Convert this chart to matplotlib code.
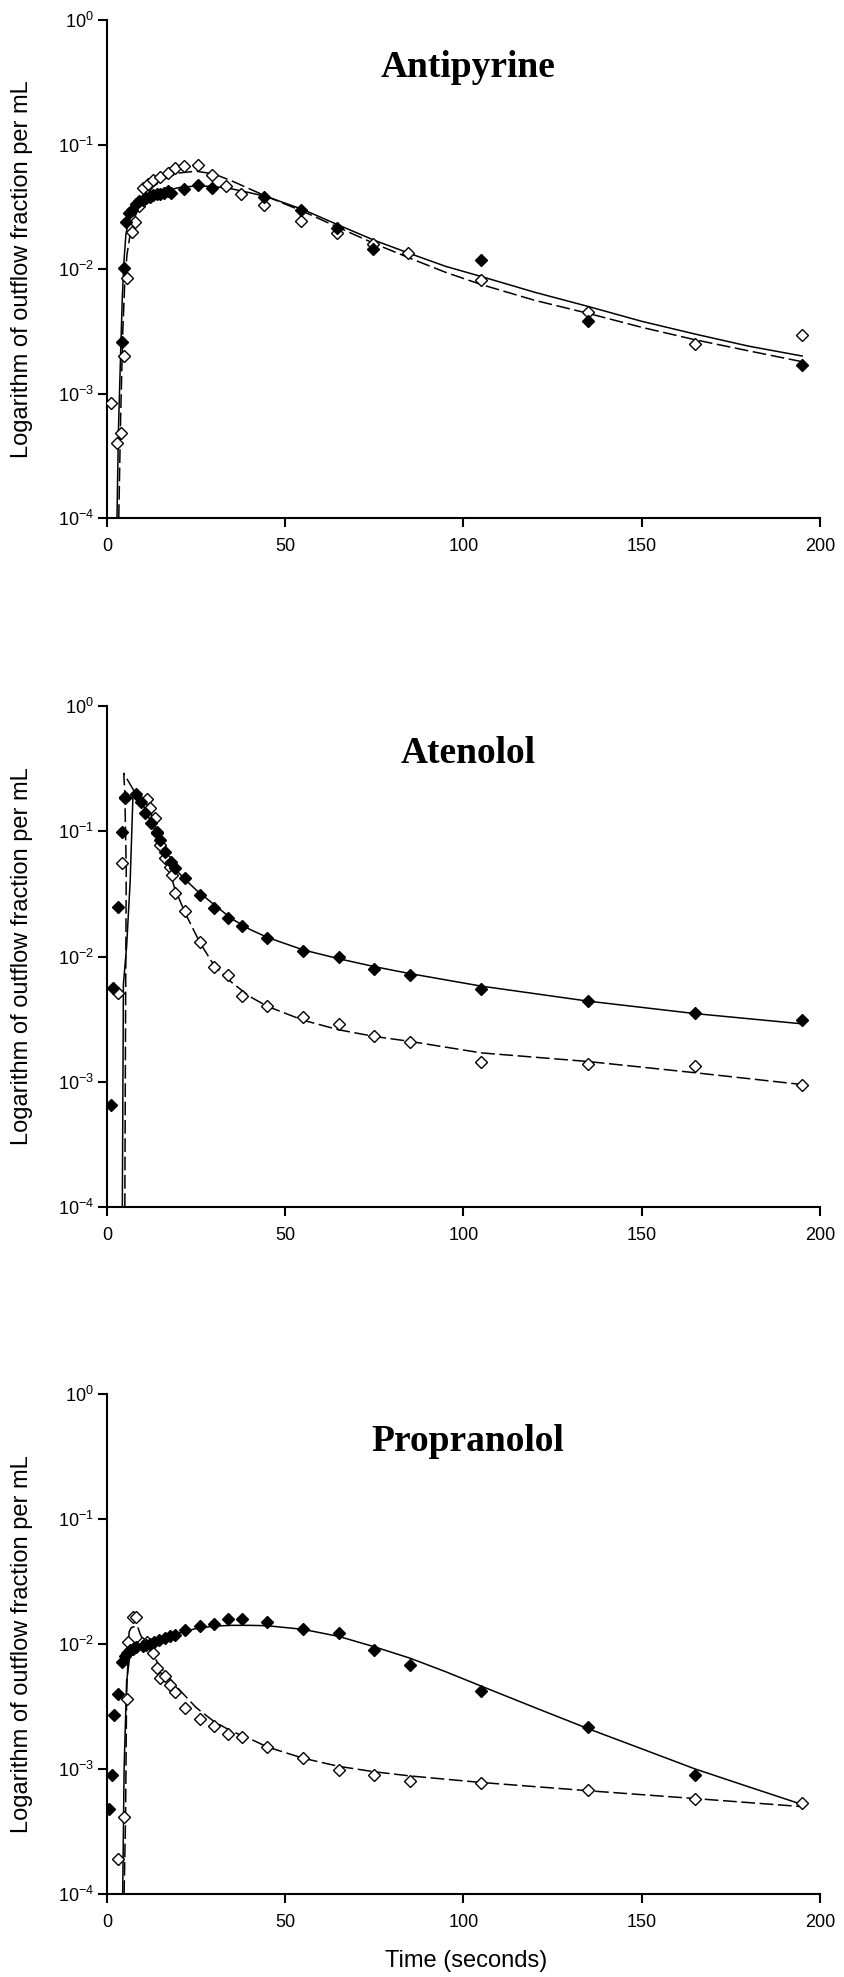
import matplotlib
matplotlib.use("Agg")
import matplotlib.pyplot as plt
from matplotlib.ticker import NullLocator

plt.rcParams["font.family"] = ["Liberation Sans", "DejaVu Sans"]
plt.rcParams["mathtext.fontset"] = "custom"
plt.rcParams["mathtext.rm"] = "Liberation Sans"
plt.rcParams["mathtext.it"] = "Liberation Sans:italic"
plt.rcParams["mathtext.bf"] = "Liberation Sans:bold"

# ---- Antipyrine ----
anti_filled_t = [4.1, 4.8, 5.3, 6.3, 7.0, 8.0, 9.0, 10.0, 11.0, 12.0, 13.0, 14.0, 15.0, 16.0,
                 17.0, 18.0, 21.5, 25.5, 29.5, 44.0, 54.5, 64.5, 74.5, 105, 135, 195]
anti_filled_y = [0.0026, 0.0101, 0.024, 0.028, 0.030, 0.033, 0.035, 0.036, 0.037, 0.038, 0.039,
                 0.040, 0.040, 0.041, 0.042, 0.041, 0.044, 0.047, 0.045, 0.038, 0.0298, 0.0215,
                 0.0145, 0.0119, 0.0038, 0.00168]
anti_open_t = [1.0, 2.9, 4.0, 4.8, 5.6, 7.0, 7.8, 9.0, 10.0, 11.5, 13.0, 15.0, 17.0, 19.0, 21.5,
               25.5, 29.5, 33.5, 37.5, 44.0, 54.5, 64.5, 74.5, 84.5, 105, 135, 165, 195]
anti_open_y = [0.00084, 0.00040, 0.00048, 0.0020, 0.0085, 0.020, 0.024, 0.032, 0.045, 0.048,
               0.052, 0.055, 0.059, 0.065, 0.067, 0.068, 0.057, 0.046, 0.040, 0.0325, 0.0245,
               0.0195, 0.0159, 0.0134, 0.0081, 0.0045, 0.0025, 0.00295]
anti_solid_t = [2.8, 3.2, 3.8, 4.3, 4.8, 5.3, 6, 7, 8, 10, 13, 16, 20, 25, 30, 35, 40, 45, 55,
                65, 75, 85, 95, 105, 120, 135, 150, 165, 180, 195]
anti_solid_y = [1e-4, 5e-4, 0.002, 0.006, 0.012, 0.019, 0.024, 0.028, 0.031, 0.035, 0.039,
                0.042, 0.045, 0.0465, 0.046, 0.044, 0.041, 0.038, 0.030, 0.0225, 0.017, 0.0133,
                0.0105, 0.0087, 0.0065, 0.0050, 0.0038, 0.0030, 0.0024, 0.0020]
anti_dash_t = [3.3, 3.8, 4.4, 5, 5.6, 6.5, 8, 10, 13, 16, 20, 25, 30, 35, 40, 45, 55, 65, 75,
               85, 95, 105, 120, 135, 150, 165, 180, 195]
anti_dash_y = [1e-4, 6e-4, 0.003, 0.008, 0.013, 0.019, 0.027, 0.036, 0.046, 0.053, 0.059,
               0.061, 0.058, 0.051, 0.044, 0.038, 0.029, 0.0215, 0.016, 0.0122, 0.0094, 0.0075,
               0.0056, 0.0044, 0.0034, 0.0027, 0.0022, 0.0018]

# ---- Atenolol ----
aten_filled_t = [1.0, 1.7, 3.1, 4.2, 5.0, 8.0, 9.5, 10.7, 12.3, 14.0, 15.0, 16.3, 18.0, 19.0,
                 22, 26, 30, 34, 38, 45, 55, 65, 75, 85, 105, 135, 165, 195]
aten_filled_y = [0.00065, 0.0056, 0.025, 0.098, 0.185, 0.20, 0.17, 0.14, 0.117, 0.099, 0.085,
                 0.068, 0.057, 0.051, 0.042, 0.031, 0.0244, 0.0203, 0.0174, 0.0140, 0.0111,
                 0.0100, 0.0079, 0.0071, 0.0055, 0.0044, 0.00355, 0.00313]
aten_open_t = [3.1, 4.2, 5.0, 11.2, 12.0, 13.5, 14.0, 15.0, 16.3, 17.7, 18.2, 19.0, 22, 26, 30,
               34, 38, 45, 55, 65, 75, 85, 105, 135, 165, 195]
aten_open_y = [0.0051, 0.056, 0.187, 0.18, 0.153, 0.128, 0.097, 0.078, 0.061, 0.052, 0.045,
               0.032, 0.023, 0.013, 0.0083, 0.0071, 0.0048, 0.0040, 0.0033, 0.0029, 0.00234,
               0.00207, 0.00143, 0.00139, 0.00134, 0.00095]
aten_solid_t = [4.3, 4.6, 5.5, 6.5, 7.3, 8.0, 9, 10, 12, 14, 16, 18, 20, 22, 25, 30, 35, 40, 45,
                55, 65, 75, 85, 105, 135, 165, 195]
aten_solid_y = [1e-4, 0.006, 0.012, 0.04, 0.2, 0.205, 0.19, 0.165, 0.123, 0.094, 0.073, 0.058,
                0.047, 0.041, 0.034, 0.026, 0.020, 0.0165, 0.0142, 0.0113, 0.0096, 0.0083,
                0.0073, 0.0058, 0.0044, 0.0035, 0.0029]
aten_dash_t = [5.0, 5.2, 5.4, 5.0, 4.7, 8, 12, 14, 16.5, 19, 22, 26, 30, 35, 40, 45, 55, 65, 75,
               85, 105, 135, 165, 195]
aten_dash_y = [1e-4, 0.003, 0.05, 0.2, 0.29, 0.2, 0.15, 0.10, 0.06, 0.035, 0.022, 0.013, 0.0085,
               0.0062, 0.0048, 0.0040, 0.0031, 0.0026, 0.0023, 0.0021, 0.0017, 0.00145,
               0.00118, 0.00095]

# ---- Propranolol ----
prop_filled_t = [0.5, 1.5, 2.0, 3.2, 4.2, 5.0, 5.7, 6.5, 7.2, 8.0, 10, 11, 12, 13.2, 14.7, 16.2,
                 17.7, 19.2, 22, 26, 30, 34, 38, 45, 55, 65, 75, 85, 105, 135, 165]
prop_filled_y = [0.00048, 0.00089, 0.0027, 0.0040, 0.0072, 0.0080, 0.0085, 0.0090, 0.0092,
                 0.0094, 0.0097, 0.0099, 0.0100, 0.0104, 0.0108, 0.0111, 0.0115, 0.0117, 0.0130,
                 0.0140, 0.0145, 0.0158, 0.0158, 0.0150, 0.0133, 0.0122, 0.0089, 0.0068, 0.0042,
                 0.00216, 0.00089]
prop_open_t = [3.2, 4.7, 5.6, 5.9, 7.3, 8.2, 9.8, 11.2, 13, 14, 15, 16.3, 17.7, 19, 22, 26, 30,
               34, 38, 45, 55, 65, 75, 85, 105, 135, 165, 195]
prop_open_y = [0.00019, 0.00041, 0.0036, 0.0104, 0.0165, 0.0165, 0.0102, 0.0104, 0.0085, 0.0064,
               0.0053, 0.0055, 0.0047, 0.0041, 0.0031, 0.0025, 0.0022, 0.0019, 0.0018, 0.0015,
               0.00122, 0.00098, 0.00089, 0.00080, 0.00077, 0.00068, 0.00058, 0.00053]
prop_solid_t = [4.4, 4.8, 5.5, 6.5, 8, 10, 13, 16, 20, 25, 30, 35, 40, 45, 55, 65, 75, 85, 95,
                105, 120, 135, 150, 165, 180, 195]
prop_solid_y = [1e-4, 0.001, 0.005, 0.0085, 0.0094, 0.0097, 0.0104, 0.0110, 0.0122, 0.0133,
                0.0139, 0.0141, 0.0141, 0.0140, 0.0131, 0.0115, 0.0095, 0.0077, 0.0060, 0.0046,
                0.0031, 0.0021, 0.00145, 0.00100, 0.00072, 0.00052]
prop_dash_t = [4.8, 5.2, 5.5, 6.2, 6.8, 8.5, 9.3, 10, 12, 15, 20, 25, 30, 35, 40, 45, 55, 65, 75,
               85, 105, 135, 165, 195]
prop_dash_y = [1e-4, 0.0004, 0.004, 0.0125, 0.0135, 0.014, 0.012, 0.011, 0.009, 0.0065, 0.0044,
               0.0031, 0.0024, 0.0020, 0.00175, 0.00150, 0.00122, 0.00105, 0.00095, 0.00088,
               0.00078, 0.00067, 0.00058, 0.00050]

titles = ["Antipyrine", "Atenolol", "Propranolol"]
y_exponents = [0, -1, -2, -3, -4]
x_ticks = [0, 50, 100, 150, 200]
ylabel = "Logarithm of outflow fraction per mL"
xlabel = "Time (seconds)"

panels = [
    (anti_filled_t, anti_filled_y, anti_open_t, anti_open_y,
     anti_solid_t, anti_solid_y, anti_dash_t, anti_dash_y),
    (aten_filled_t, aten_filled_y, aten_open_t, aten_open_y,
     aten_solid_t, aten_solid_y, aten_dash_t, aten_dash_y),
    (prop_filled_t, prop_filled_y, prop_open_t, prop_open_y,
     prop_solid_t, prop_solid_y, prop_dash_t, prop_dash_y),
]

W, H = 844, 1977
fig = plt.figure(figsize=(W / 100, H / 100), dpi=100)
fig.patch.set_facecolor("white")

ax_left, ax_right = 107, 820
ax_tops = [20, 706, 1394]
ax_bottoms = [518, 1207, 1894]

for i, (ft, fy, ot, oy, st, sy, dt, dy) in enumerate(panels):
    top, bot = ax_tops[i], ax_bottoms[i]
    ax = fig.add_axes([ax_left / W, 1 - bot / H, (ax_right - ax_left) / W, (bot - top) / H])

    ax.plot(st, sy, color="black", lw=1.1, zorder=2)
    ax.plot(dt, dy, color="black", lw=1.1, dashes=(9, 3), zorder=2)
    ax.plot(ot, oy, ls="none", marker="D", ms=6, mfc="white", mec="black", mew=1.0, zorder=3)
    ax.plot(ft, fy, ls="none", marker="D", ms=6, mfc="black", mec="black", zorder=4)

    ax.set_yscale("log")
    ax.set_ylim(1e-4, 1)
    ax.set_xlim(0, 200)
    ax.set_yticks([10.0 ** e for e in y_exponents])
    ax.set_yticklabels([r"$10^{%d}$" % e for e in y_exponents])
    ax.yaxis.set_minor_locator(NullLocator())
    ax.set_xticks(x_ticks)
    ax.set_xticklabels([str(v) for v in x_ticks])

    for side in ("top", "right"):
        ax.spines[side].set_visible(False)
    for side in ("left", "bottom"):
        ax.spines[side].set_linewidth(1.5)
    ax.tick_params(axis="both", direction="out", length=6.5, width=1.5, labelsize=13)
    ax.tick_params(axis="y", pad=3)
    ax.tick_params(axis="x", pad=8)

    ax.set_ylabel(ylabel, fontsize=17)
    ax.yaxis.set_label_coords(-0.104, 0.5)

    ax.text(0.506, 0.905, titles[i], transform=ax.transAxes, ha="center", va="center",
            fontsize=27, fontweight="bold", family="Liberation Serif")

    if i == 2:
        ax.set_xlabel(xlabel, fontsize=17)
        ax.xaxis.set_label_coords(0.503, -0.112)

fig.savefig("out.png", dpi=100)
